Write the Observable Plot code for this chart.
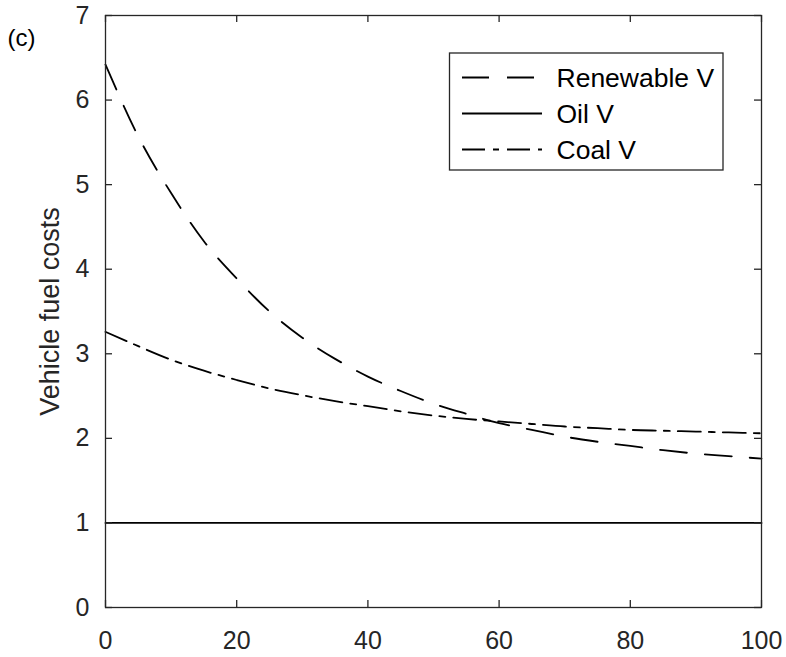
<!DOCTYPE html>
<html>
<head>
<meta charset="utf-8">
<script src="https://cdn.jsdelivr.net/npm/d3@7"></script>
<script src="https://cdn.jsdelivr.net/npm/@observablehq/plot@0.6"></script>
<style>
  html, body { margin: 0; padding: 0; background: white; }
</style>
</head>
<body>
<div id="chart"></div>
<script>
// ---- data ----
const xValues = [0,5,10,15,20,25,30,35,40,45,50,55,60,65,70,75,80,85,90,95,100];
const renewable = [6.42,5.57,4.90,4.33,3.89,3.50,3.19,2.94,2.73,2.56,2.41,2.29,2.18,2.10,2.02,1.96,1.91,1.86,1.82,1.79,1.76];
const oil       = [1,1,1,1,1,1,1,1,1,1,1,1,1,1,1,1,1,1,1,1,1];
const coal      = [3.26,3.09,2.93,2.80,2.69,2.59,2.51,2.44,2.38,2.32,2.27,2.23,2.20,2.17,2.14,2.12,2.10,2.09,2.08,2.07,2.06];
const seriesNames = ["Renewable V", "Oil V", "Coal V"];
const xTicks = [0,20,40,60,80,100];
const yTicks = [0,1,2,3,4,5,6,7];
const yLabel = "Vehicle fuel costs";
const panelLabel = "(c)";

// ---- layout / style ----
const W = 786, H = 657;
const mL = 105, mR = 25, mT = 15, mB = 50;
const plotW = W - mL - mR, plotH = H - mT - mB;
const tickLen = 7;
const axisColor = "#262626";
const fontSize = 25;
const dashes = {"Renewable V": "27,18", "Oil V": null, "Coal V": "23,8,6,8"};

const seriesValues = [renewable, oil, coal];
const rows = [];
seriesNames.forEach((name, si) => {
  xValues.forEach((x, i) => rows.push({series: name, x, y: seriesValues[si][i]}));
});

const lineMarks = seriesNames.map(name =>
  Plot.line(rows.filter(d => d.series === name), {
    x: "x", y: "y", stroke: "black", strokeWidth: 1.8,
    strokeDasharray: dashes[name] || undefined,
    curve: "monotone-x"
  })
);

const chart = Plot.plot({
  width: W, height: H,
  marginLeft: mL, marginRight: mR, marginTop: mT, marginBottom: mB,
  x: {domain: [0, 100]},
  y: {domain: [0, 7]},
  style: {fontFamily: "'Liberation Sans', Arial, sans-serif", fontSize: fontSize + "px", color: axisColor, background: "white"},
  marks: [
    ...lineMarks,
    Plot.frame({stroke: axisColor, strokeWidth: 1.3}),
    Plot.ruleX(xTicks, {x: d => d, insetTop: plotH - tickLen, stroke: axisColor, strokeWidth: 1.3}),
    Plot.ruleX(xTicks, {x: d => d, insetBottom: plotH - tickLen, stroke: axisColor, strokeWidth: 1.3}),
    Plot.ruleY(yTicks, {y: d => d, insetRight: plotW - tickLen, stroke: axisColor, strokeWidth: 1.3}),
    Plot.ruleY(yTicks, {y: d => d, insetLeft: plotW - tickLen, stroke: axisColor, strokeWidth: 1.3}),
    Plot.axisX(xTicks, {tickSize: 0, tickPadding: 24, label: null, fontSize: fontSize, tickFormat: d3.format("d")}),
    Plot.axisY(yTicks, {tickSize: 0, tickPadding: 16, label: null, fontSize: fontSize, tickFormat: d3.format("d")}),
    Plot.text([yLabel], {frameAnchor: "left", rotate: -90, dx: -47, lineAnchor: "bottom", textAnchor: "middle", fontSize: 27, fill: axisColor}),
    Plot.text([panelLabel], {frameAnchor: "top-left", dx: -98, dy: 30, lineAnchor: "bottom", textAnchor: "start", fontSize: 24, fill: "black"})
  ]
});

document.getElementById("chart").appendChild(chart);

// ---- legend (inside the plot, upper right) ----
const svg = d3.select(chart);
const lg = svg.append("g").attr("class", "legend");
const box = {x: 449.5, y: 53, w: 273.5, h: 117};
lg.append("rect")
  .attr("x", box.x).attr("y", box.y).attr("width", box.w).attr("height", box.h)
  .attr("fill", "white").attr("stroke", axisColor).attr("stroke-width", 1.3);
const rowY = [77.5, 113.5, 149.5];
seriesNames.forEach((name, i) => {
  lg.append("line")
    .attr("x1", 462).attr("x2", 542).attr("y1", rowY[i]).attr("y2", rowY[i])
    .attr("stroke", "black").attr("stroke-width", 1.8)
    .attr("stroke-dasharray", dashes[name] || null);
  lg.append("text")
    .attr("x", 556.5).attr("y", rowY[i]).attr("dy", "0.35em")
    .attr("text-anchor", "start")
    .attr("font-size", 26.5)
    .attr("fill", "black")
    .text(name);
});
</script>
</body>
</html>
